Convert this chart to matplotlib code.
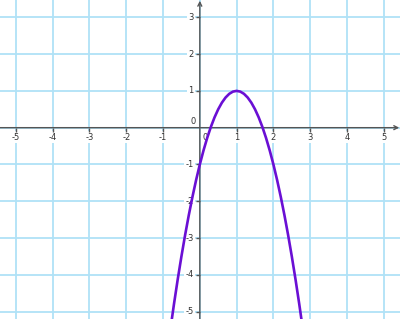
import matplotlib
matplotlib.use("Agg")
import matplotlib.pyplot as plt

# grid / tick positions
x_ticks = [-5, -4, -3, -2, -1, 1, 2, 3, 4, 5]
y_ticks = [-5, -4, -3, -2, -1, 1, 2, 3]

# points of the curve
curve_x = [-0.8, -0.7, -0.6, -0.5, -0.4, -0.3, -0.2, -0.1, 0.0, 0.1, 0.2, 0.3,
           0.4, 0.5, 0.6, 0.7, 0.8, 0.9, 1.0, 1.1, 1.2, 1.3, 1.4, 1.5, 1.6,
           1.7, 1.8, 1.9, 2.0, 2.1, 2.2, 2.3, 2.4, 2.5, 2.6, 2.7, 2.8]
curve_y = [-5.48, -4.78, -4.12, -3.5, -2.92, -2.38, -1.88, -1.42, -1.0, -0.62,
           -0.28, 0.02, 0.28, 0.5, 0.68, 0.82, 0.92, 0.98, 1.0, 0.98, 0.92,
           0.82, 0.68, 0.5, 0.28, 0.02, -0.28, -0.62, -1.0, -1.42, -1.88,
           -2.38, -2.92, -3.5, -4.12, -4.78, -5.48]

xmin, xmax = -5.43, 5.44
ymin, ymax = -5.20, 3.47

grid_color = "#b0e2f7"
axis_color = "#555555"
label_color = "#333333"

fig = plt.figure(figsize=(4, 3.19), dpi=100)
ax = fig.add_axes([0, 0, 1, 1])
ax.set_xlim(xmin, xmax)
ax.set_ylim(ymin, ymax)

# grid
for x in range(-5, 6):
    ax.axvline(x, color=grid_color, lw=1.3, zorder=1)
for y in range(-5, 4):
    ax.axhline(y, color=grid_color, lw=1.3, zorder=1)

# axes with arrows
ax.annotate("", xy=(xmax - 0.02, 0), xytext=(xmin, 0),
            arrowprops=dict(arrowstyle="->", color=axis_color, lw=1,
                            shrinkA=0, shrinkB=0, mutation_scale=7), zorder=3)
ax.annotate("", xy=(0, ymax - 0.02), xytext=(0, ymin),
            arrowprops=dict(arrowstyle="->", color=axis_color, lw=1,
                            shrinkA=0, shrinkB=0, mutation_scale=7), zorder=3)

ax.set_xticks([])
ax.set_yticks([])
for s in ax.spines.values():
    s.set_visible(False)

# small tick marks
ax.plot(x_ticks, [0] * len(x_ticks), ls="none", marker=3, ms=3,
        color=axis_color, mew=1, zorder=3)
ax.plot([0] * len(y_ticks), y_ticks, ls="none", marker=0, ms=3,
        color=axis_color, mew=1, zorder=3)

box = dict(boxstyle="square,pad=0.15", fc="white", ec="none")
for x in x_ticks:
    ax.annotate(str(x), (x, 0), xytext=(0, -3.5), textcoords="offset points",
                ha="center", va="top", fontsize=6, color=label_color,
                bbox=box, zorder=2)
for y in y_ticks:
    ax.annotate(str(y), (0, y), xytext=(-4.5, 0), textcoords="offset points",
                ha="right", va="center", fontsize=6, color=label_color,
                bbox=box, zorder=2)
ax.annotate("0", (0, 0), xytext=(-3, 1.5), textcoords="offset points",
            ha="right", va="bottom", fontsize=6, color=label_color, zorder=2)
ax.annotate("0", (0, 0), xytext=(2, -3.5), textcoords="offset points",
            ha="left", va="top", fontsize=6, color=label_color, zorder=2)

# the curve
ax.plot(curve_x, curve_y, color="#6a0fd4", lw=1.9, zorder=4,
        solid_capstyle="round")

fig.savefig("out.png", dpi=100)
